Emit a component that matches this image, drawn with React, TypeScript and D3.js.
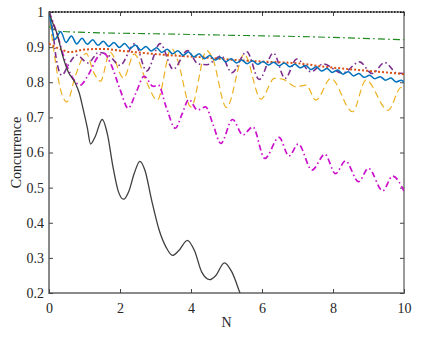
import React, { useRef, useEffect } from "react";
import { select, scaleLinear, line, curveMonotoneX, axisBottom, axisLeft, axisTop, axisRight } from "d3";

// N values and concurrence readings, estimated from the figure
const blackN = [0, 10];
const blackC = [1, 1];

const greenN = [0, 0.15, 0.3, 1, 3, 5, 7.5, 10];
const greenC = [0.958, 0.95, 0.945, 0.942, 0.938, 0.934, 0.929, 0.921];

const blueN = [0, 0.07, 0.16, 0.33, 0.48, 0.63, 0.78, 0.93, 1.08, 1.23, 1.38, 1.53, 1.68, 1.83, 1.98, 2.13, 2.28, 2.43, 2.58, 2.73, 2.88, 3.03, 3.18, 3.33, 3.48, 3.63, 3.78, 3.93, 4.08, 4.23, 4.38, 4.53, 4.68, 4.83, 4.98, 5.13, 5.28, 5.43, 5.58, 5.73, 5.88, 6.03, 6.18, 6.33, 6.48, 6.63, 6.78, 6.93, 7.08, 7.23, 7.38, 7.53, 7.68, 7.83, 7.98, 8.13, 8.28, 8.43, 8.58, 8.73, 8.88, 9.03, 9.18, 9.33, 9.48, 9.63, 9.78, 9.93, 10];
const blueC = [1, 0.96, 0.922, 0.944, 0.913, 0.932, 0.909, 0.925, 0.908, 0.921, 0.905, 0.917, 0.902, 0.913, 0.899, 0.91, 0.896, 0.906, 0.892, 0.902, 0.889, 0.898, 0.885, 0.894, 0.881, 0.89, 0.877, 0.886, 0.872, 0.881, 0.867, 0.876, 0.863, 0.871, 0.858, 0.867, 0.855, 0.863, 0.853, 0.861, 0.851, 0.859, 0.849, 0.857, 0.847, 0.855, 0.844, 0.851, 0.841, 0.848, 0.836, 0.844, 0.832, 0.839, 0.828, 0.835, 0.823, 0.83, 0.818, 0.825, 0.814, 0.82, 0.81, 0.816, 0.806, 0.812, 0.801, 0.806, 0.8];

const orangeN = [0, 0.3, 0.6, 1, 1.5, 2, 2.8, 3.4, 4.3, 5.3, 6.2, 7, 7.7, 8.7, 9.6, 10];
const orangeC = [0.91, 0.895, 0.886, 0.893, 0.895, 0.89, 0.882, 0.877, 0.871, 0.863, 0.858, 0.854, 0.845, 0.835, 0.827, 0.823];

const purpleN = [0, 0.1, 0.2, 0.36, 0.55, 0.78, 1.1, 1.4, 1.7, 2, 2.42, 2.75, 3.13, 3.5, 3.9, 4.2, 4.45, 4.85, 5.15, 5.57, 5.92, 6.32, 6.65, 6.98, 7.38, 7.72, 8.27, 8.75, 9.1, 9.46, 9.8, 10];
const purpleC = [1, 0.95, 0.87, 0.82, 0.85, 0.877, 0.855, 0.885, 0.875, 0.848, 0.91, 0.832, 0.91, 0.837, 0.89, 0.852, 0.85, 0.875, 0.827, 0.887, 0.808, 0.883, 0.811, 0.866, 0.83, 0.852, 0.826, 0.858, 0.825, 0.856, 0.826, 0.825];

const yellowN = [0, 0.15, 0.3, 0.5, 0.75, 1.05, 1.25, 1.45, 1.72, 2.1, 2.4, 2.75, 3.05, 3.45, 3.6, 4, 4.44, 4.6, 5, 5.5, 5.97, 6.35, 6.6, 6.96, 7.24, 7.52, 7.94, 8.55, 8.93, 9.55, 9.92, 10];
const yellowC = [1, 0.88, 0.79, 0.744, 0.82, 0.882, 0.83, 0.803, 0.886, 0.812, 0.88, 0.8, 0.749, 0.897, 0.87, 0.73, 0.89, 0.87, 0.728, 0.88, 0.752, 0.811, 0.808, 0.787, 0.792, 0.749, 0.811, 0.716, 0.806, 0.72, 0.785, 0.78];

const magentaN = [0, 0.1, 0.25, 0.44, 0.65, 0.88, 1.1, 1.4, 1.55, 1.75, 2, 2.23, 2.45, 2.68, 2.94, 3.08, 3.3, 3.56, 3.75, 3.94, 4.18, 4.41, 4.62, 4.84, 5.17, 5.46, 5.74, 6.08, 6.48, 6.76, 7.02, 7.41, 7.77, 8.07, 8.35, 8.72, 9, 9.4, 9.68, 10];
const magentaC = [1, 0.975, 0.93, 0.865, 0.815, 0.792, 0.82, 0.875, 0.882, 0.85, 0.78, 0.726, 0.77, 0.817, 0.788, 0.792, 0.73, 0.669, 0.71, 0.751, 0.721, 0.73, 0.68, 0.626, 0.694, 0.65, 0.673, 0.583, 0.643, 0.59, 0.624, 0.55, 0.595, 0.54, 0.576, 0.517, 0.555, 0.491, 0.533, 0.49];

const grayN = [0, 0.1, 0.22, 0.4, 0.54, 0.73, 0.85, 0.97, 1.08, 1.17, 1.3, 1.5, 1.65, 1.8, 1.95, 2.1, 2.25, 2.4, 2.56, 2.7, 2.9, 3.1, 3.3, 3.48, 3.65, 3.9, 4.1, 4.3, 4.53, 4.7, 4.94, 5.15, 5.38, 5.6];
const grayC = [1, 0.97, 0.94, 0.87, 0.83, 0.8, 0.77, 0.72, 0.67, 0.624, 0.645, 0.694, 0.65, 0.56, 0.49, 0.467, 0.49, 0.54, 0.575, 0.55, 0.46, 0.38, 0.33, 0.307, 0.32, 0.35, 0.32, 0.26, 0.238, 0.25, 0.286, 0.26, 0.2, 0.14];

const xTicks = [0, 2, 4, 6, 8, 10];
const yTicks = [0.2, 0.3, 0.4, 0.5, 0.6, 0.7, 0.8, 0.9, 1];

const series = [
  { n: blackN, c: blackC, color: "#111111", width: 1.5, dash: "1.5,1.5" },
  { n: greenN, c: greenC, color: "#1f8a1f", width: 1.1, dash: "7,3,2,3" },
  { n: yellowN, c: yellowC, color: "#EDB120", width: 1.2, dash: "7,4" },
  { n: purpleN, c: purpleC, color: "#7E2F8E", width: 1.6, dash: "6,3,1.5,3" },
  { n: magentaN, c: magentaC, color: "#cc11cc", width: 1.7, dash: "6,3,1.5,3" },
  { n: orangeN, c: orangeC, color: "#D95319", width: 2, dash: "2,2" },
  { n: blueN, c: blueC, color: "#0072BD", width: 1.5, dash: null },
  { n: grayN, c: grayC, color: "#404040", width: 1.3, dash: null },
];

const W = 436, H = 343;
const left = 49, right = 404, top = 12, bottom = 293;
const font = "'Liberation Serif', 'Times New Roman', serif";

export default function App() {
  const svgRef = useRef<SVGSVGElement>(null);

  useEffect(() => {
    const svg = select(svgRef.current);
    svg.selectAll("*").remove();

    const x = scaleLinear().domain([0, 10]).range([left, right]);
    const y = scaleLinear().domain([0.2, 1]).range([bottom, top]);

    svg.append("defs").append("clipPath").attr("id", "plot")
      .append("rect").attr("x", left).attr("y", top - 2)
      .attr("width", right - left).attr("height", bottom - top + 2);

    // frame
    svg.append("rect").attr("x", left).attr("y", top)
      .attr("width", right - left).attr("height", bottom - top)
      .attr("fill", "none").attr("stroke", "#7a7a7a").attr("stroke-width", 1.5);
    svg.append("line").attr("x1", left).attr("x2", left).attr("y1", top).attr("y2", bottom + 1)
      .attr("stroke", "#8a8a8a").attr("stroke-width", 2);
    svg.append("line").attr("x1", left - 1).attr("x2", right + 1).attr("y1", bottom).attr("y2", bottom)
      .attr("stroke", "#8a8a8a").attr("stroke-width", 2);

    const fmt = (d: any) => String(+(+d).toFixed(1));

    const style = (g: any) => {
      g.select(".domain").remove();
      g.selectAll("line").attr("stroke", "#444").attr("stroke-width", 1);
      g.selectAll("text").attr("font-family", font).attr("font-size", 14).attr("fill", "#262626");
    };

    svg.append("g").attr("transform", `translate(0,${bottom})`)
      .call(axisBottom(x).tickValues(xTicks).tickSizeInner(-4).tickSizeOuter(0).tickPadding(10).tickFormat(fmt))
      .call(style);
    svg.append("g").attr("transform", `translate(0,${top})`)
      .call(axisTop(x).tickValues(xTicks).tickSizeInner(-4).tickSizeOuter(0).tickFormat(() => ""))
      .call(style);
    svg.append("g").attr("transform", `translate(${left},0)`)
      .call(axisLeft(y).tickValues(yTicks).tickSizeInner(-4).tickSizeOuter(0).tickPadding(5).tickFormat(fmt))
      .call(style);
    svg.append("g").attr("transform", `translate(${right},0)`)
      .call(axisRight(y).tickValues(yTicks).tickSizeInner(-4).tickSizeOuter(0).tickFormat(() => ""))
      .call(style);

    const lines = svg.append("g").attr("clip-path", "url(#plot)");
    series.forEach((s) => {
      const pts = s.n.map((n, i) => [n, s.c[i]] as [number, number]);
      const gen = line<[number, number]>().x((d) => x(d[0])).y((d) => y(d[1])).curve(curveMonotoneX);
      lines.append("path")
        .attr("d", gen(pts))
        .attr("fill", "none")
        .attr("stroke", s.color)
        .attr("stroke-width", s.width)
        .attr("stroke-dasharray", s.dash)
        .attr("stroke-linejoin", "round");
    });

    svg.append("text").attr("x", (left + right) / 2).attr("y", 327)
      .attr("text-anchor", "middle").attr("font-family", font).attr("font-size", 14).attr("fill", "#262626")
      .text("N");
    svg.append("text").attr("transform", `translate(21,${(top + bottom) / 2}) rotate(-90)`)
      .attr("text-anchor", "middle").attr("font-family", font).attr("font-size", 14).attr("fill", "#262626")
      .text("Concurrence");
  }, []);

  return (
    <div style={{ position: "absolute", left: 0, top: 0, width: W, height: H, background: "#fff" }}>
      <svg ref={svgRef} width={W} height={H} />
    </div>
  );
}
